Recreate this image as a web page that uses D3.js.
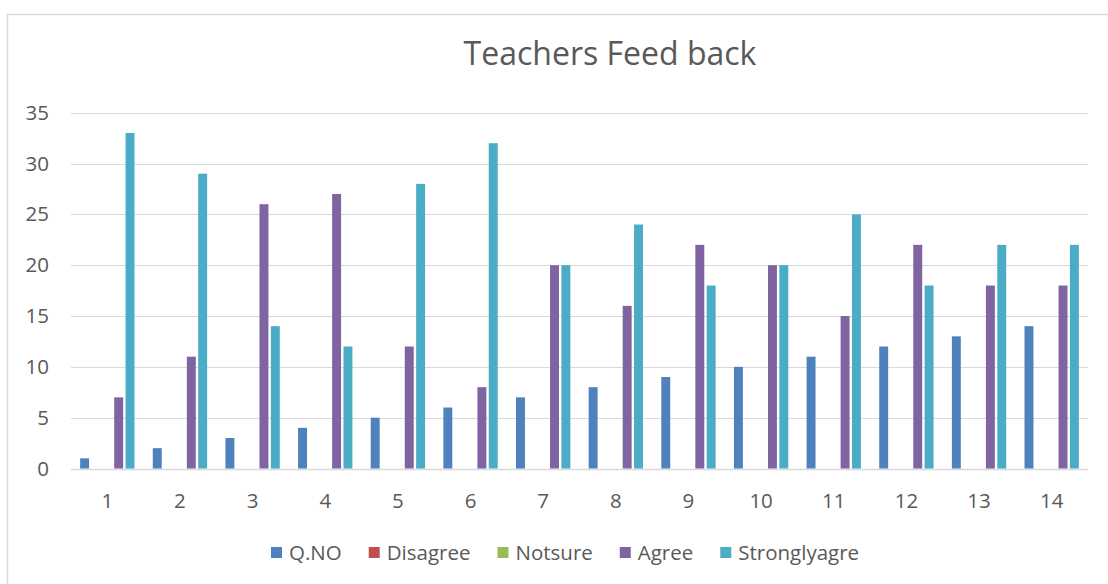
<!DOCTYPE html>
<html>
<head>
<meta charset="utf-8">
<script src="https://cdn.jsdelivr.net/npm/d3@7"></script>
<style>
  body { margin: 0; background: #fff; }
  text { font-family: "Open Sans", sans-serif; fill: #595959; }
</style>
</head>
<body>
<script>
// chart data
const categories = ["1","2","3","4","5","6","7","8","9","10","11","12","13","14"];
const seriesNames = ["Q.NO", "Disagree", "Notsure", "Agree", "Stronglyagre"];
const qno      = [1,2,3,4,5,6,7,8,9,10,11,12,13,14];
const disagree = [0,0,0,0,0,0,0,0,0,0,0,0,0,0];
const notsure  = [0,0,0,0,0,0,0,0,0,0,0,0,0,0];
const agree    = [7,11,26,27,12,8,20,16,22,20,15,22,18,18];
const strongly = [33,29,14,12,28,32,20,24,18,20,25,18,22,22];
const yTicks = [0,5,10,15,20,25,30,35];
const colors = ["#4F81BD", "#C0504D", "#9BBB59", "#8064A2", "#4BACC6"];

const values = [qno, disagree, notsure, agree, strongly];
const W = 1108, H = 584;

const svg = d3.select("body").append("svg")
  .attr("width", W).attr("height", H);

// outer chart border (runs off the right/bottom of the crop)
svg.append("rect")
  .attr("x", 7.5).attr("y", 14.5)
  .attr("width", 1300).attr("height", 800)
  .attr("fill", "none")
  .attr("stroke", "#d9d9d9")
  .attr("stroke-width", 1.5);

svg.append("text")
  .attr("x", 610).attr("y", 65)
  .attr("text-anchor", "middle")
  .style("font-size", "32px")
  .text("Teachers Feed back");

const x0 = d3.scaleBand().domain(categories).range([71, 1088]).padding(0);
const x1 = d3.scaleBand().domain(seriesNames).range([0, x0.bandwidth()])
  .paddingInner(0).paddingOuter(0.7);
const y = d3.scaleLinear().domain([0, 35]).range([468.5, 112.7]);

// gridlines
svg.append("g")
  .selectAll("line")
  .data(yTicks)
  .enter().append("line")
  .attr("x1", 71).attr("x2", 1088)
  .attr("y1", d => Math.round(y(d)) + 0.5)
  .attr("y2", d => Math.round(y(d)) + 0.5)
  .attr("stroke", "#d9d9d9")
  .attr("stroke-width", d => d === 0 ? 1.5 : 1.2);

// y labels
svg.append("g")
  .selectAll("text")
  .data(yTicks)
  .enter().append("text")
  .attr("x", 49)
  .attr("y", d => y(d) + 7)
  .attr("text-anchor", "end")
  .style("font-size", "20.5px")
  .text(d => d);

// x labels
svg.append("g")
  .selectAll("text")
  .data(categories)
  .enter().append("text")
  .attr("x", d => x0(d) + x0.bandwidth() / 2)
  .attr("y", 508)
  .attr("text-anchor", "middle")
  .style("font-size", "20.5px")
  .text(d => d);

// bars
const rows = [];
categories.forEach((c, i) => {
  seriesNames.forEach((s, j) => {
    rows.push({ cat: c, series: s, value: values[j][i], color: colors[j] });
  });
});

svg.append("g")
  .selectAll("rect")
  .data(rows.filter(d => d.value > 0))
  .enter().append("rect")
  .attr("x", d => x0(d.cat) + x1(d.series) + 1.2)
  .attr("width", x1.bandwidth() - 2.4)
  .attr("y", d => y(d.value))
  .attr("height", d => y(0) - y(d.value))
  .attr("fill", d => d.color);

// legend
const legend = svg.append("g");
let lx = 271;
seriesNames.forEach((s, j) => {
  legend.append("rect")
    .attr("x", lx).attr("y", 547)
    .attr("width", 11).attr("height", 11)
    .attr("fill", colors[j]);
  const t = legend.append("text")
    .attr("x", lx + 18).attr("y", 560)
    .style("font-size", "20.5px")
    .text(s);
  lx += 18 + t.node().getComputedTextLength() + 27;
});
</script>
</body>
</html>
